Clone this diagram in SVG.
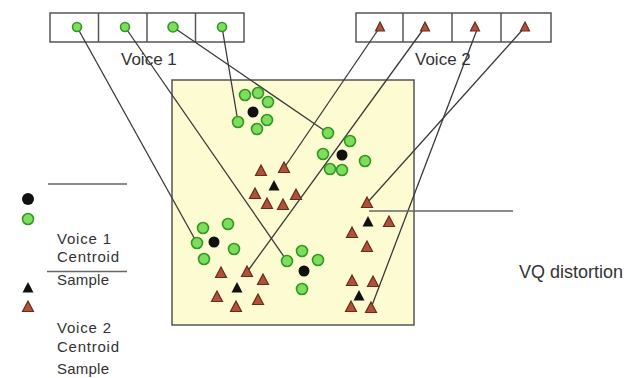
<svg xmlns="http://www.w3.org/2000/svg" xmlns:xlink="http://www.w3.org/1999/xlink" width="634" height="378" viewBox="0 0 634 378">
<style>
.box{fill:#fff;stroke:#555;stroke-width:1.5}
.space{fill:#fdfbd2;stroke:#555;stroke-width:1.5}
.g{fill:#7fdc5c;stroke:#2f9a22;stroke-width:1.6}
.c{fill:#111}
.t{fill:#b0523a;stroke:#6a2a1c;stroke-width:1.2}
.tc{fill:#111}
.ln{stroke:#3a3a3a;stroke-width:1.3;fill:none}
.gl{stroke:#666;stroke-width:1.6;fill:none}
.lbl{font-family:"Liberation Sans",Arial,sans-serif;fill:#333}
.leg{font-family:"Liberation Sans",Arial,sans-serif;font-size:15px;fill:#333}
</style>
<defs>
<path id="tri" d="M0,-6 L5.5,4.5 L-5.5,4.5 Z"/>
<path id="trism" d="M0,-5 L4.5,4 L-4.5,4 Z"/>
</defs>
<rect width="634" height="378" fill="#fff"/>

<g id="feature-space">
<rect class="space" x="172" y="80" width="242" height="245"/>
</g>

<g id="voice1-codebook">
<rect class="box" x="50" y="13" width="194" height="29"/>
<line class="box" x1="98.5" y1="13" x2="98.5" y2="42"/>
<line class="box" x1="147" y1="13" x2="147" y2="42"/>
<line class="box" x1="195.5" y1="13" x2="195.5" y2="42"/>
<text class="lbl" x="121" y="65" font-size="17">Voice 1</text>
</g>

<g id="voice2-codebook">
<rect class="box" x="356" y="13" width="195" height="29"/>
<line class="box" x1="403" y1="13" x2="403" y2="42"/>
<line class="box" x1="452" y1="13" x2="452" y2="42"/>
<line class="box" x1="501" y1="13" x2="501" y2="42"/>
<text class="lbl" x="415" y="65" font-size="17">Voice 2</text>
</g>

<g id="connectors">
<line class="ln" x1="77" y1="27" x2="197" y2="243"/>
<line class="ln" x1="125" y1="27" x2="287" y2="261"/>
<line class="ln" x1="173" y1="27" x2="328" y2="133"/>
<line class="ln" x1="222" y1="27" x2="238" y2="122"/>
<line class="ln" x1="380" y1="27" x2="284" y2="168"/>
<line class="ln" x1="425" y1="27" x2="247" y2="272"/>
<line class="ln" x1="478" y1="27" x2="371" y2="308"/>
<line class="ln" x1="525" y1="27" x2="367" y2="203"/>
</g>

<g id="voice1-codewords">
<circle class="g" cx="77" cy="27" r="4.5"/>
<circle class="g" cx="125" cy="27" r="4.5"/>
<circle class="g" cx="173" cy="27" r="5"/>
<circle class="g" cx="222" cy="27" r="4.5"/>
</g>
<g id="voice2-codewords">
<use href="#trism" class="t" x="380" y="27"/>
<use href="#trism" class="t" x="425" y="27"/>
<use href="#trism" class="t" x="475" y="27"/>
<use href="#trism" class="t" x="525" y="27"/>
</g>

<g id="voice1-cluster1">
<circle class="g" cx="245" cy="95" r="5.5"/>
<circle class="g" cx="258" cy="93" r="5.5"/>
<circle class="g" cx="268" cy="102" r="5.5"/>
<circle class="g" cx="238" cy="122" r="5.5"/>
<circle class="g" cx="267" cy="120" r="5.5"/>
<circle class="g" cx="257" cy="129" r="5.5"/>
<circle class="c" cx="253" cy="112" r="5.5"/>
</g>
<g id="voice1-cluster2">
<circle class="g" cx="328" cy="133" r="5.5"/>
<circle class="g" cx="350" cy="141" r="5.5"/>
<circle class="g" cx="323" cy="154" r="5.5"/>
<circle class="g" cx="365" cy="161" r="5.5"/>
<circle class="g" cx="330" cy="169" r="5.5"/>
<circle class="g" cx="342" cy="170" r="5.5"/>
<circle class="c" cx="342" cy="155" r="5.5"/>
</g>
<g id="voice1-cluster3">
<circle class="g" cx="203" cy="228" r="5.5"/>
<circle class="g" cx="228" cy="224" r="5.5"/>
<circle class="g" cx="197" cy="243" r="5.5"/>
<circle class="g" cx="234" cy="249" r="5.5"/>
<circle class="g" cx="204" cy="259" r="5.5"/>
<circle class="c" cx="214" cy="242" r="5.5"/>
</g>
<g id="voice1-cluster4">
<circle class="g" cx="302" cy="251" r="5.5"/>
<circle class="g" cx="318" cy="260" r="5.5"/>
<circle class="g" cx="287" cy="261" r="5.5"/>
<circle class="g" cx="302" cy="289" r="5.5"/>
<circle class="c" cx="304" cy="271" r="5.5"/>
</g>

<g id="voice2-cluster1">
<use href="#tri" class="t" x="284" y="168"/>
<use href="#tri" class="t" x="261" y="171"/>
<use href="#tri" class="t" x="255" y="194"/>
<use href="#tri" class="t" x="296" y="195"/>
<use href="#tri" class="t" x="267" y="204"/>
<use href="#tri" class="t" x="283" y="205"/>
<use href="#tri" class="tc" x="274" y="186"/>
</g>
<g id="voice2-cluster2">
<use href="#tri" class="t" x="367" y="203"/>
<use href="#tri" class="t" x="389" y="222"/>
<use href="#tri" class="t" x="352" y="233"/>
<use href="#tri" class="t" x="367" y="247"/>
<use href="#tri" class="tc" x="368" y="222"/>
</g>
<g id="voice2-cluster3">
<use href="#tri" class="t" x="352" y="281"/>
<use href="#tri" class="t" x="373" y="282"/>
<use href="#tri" class="t" x="351" y="307"/>
<use href="#tri" class="t" x="371" y="308"/>
<use href="#tri" class="tc" x="359" y="296"/>
</g>
<g id="voice2-cluster4">
<use href="#tri" class="t" x="221" y="273"/>
<use href="#tri" class="t" x="247" y="272"/>
<use href="#tri" class="t" x="263" y="280"/>
<use href="#tri" class="t" x="217" y="297"/>
<use href="#tri" class="t" x="258" y="300"/>
<use href="#tri" class="t" x="236" y="307"/>
<use href="#tri" class="tc" x="237" y="288"/>
</g>

<g id="vq-distortion">
<line class="gl" x1="369" y1="211" x2="513" y2="211"/>
<text class="lbl" x="519" y="278" font-size="18">VQ distortion</text>
</g>

<g id="legend">
<line class="gl" x1="48" y1="184" x2="127" y2="184"/>
<circle class="c" cx="28" cy="199" r="6"/>
<circle class="g" cx="28" cy="219" r="5.5"/>
<text class="leg" x="57" y="244" textLength="54">Voice 1</text>
<text class="leg" x="57" y="262" textLength="62">Centroid</text>
<line class="gl" x1="47" y1="271.5" x2="127" y2="271.5"/>
<text class="leg" x="57" y="285" textLength="52">Sample</text>
<use href="#tri" class="tc" x="28" y="288"/>
<use href="#tri" class="t" x="28" y="307"/>
<text class="leg" x="57" y="333" textLength="54">Voice 2</text>
<text class="leg" x="57" y="352" textLength="62">Centroid</text>
<text class="leg" x="57" y="374" textLength="52">Sample</text>
</g>
</svg>
